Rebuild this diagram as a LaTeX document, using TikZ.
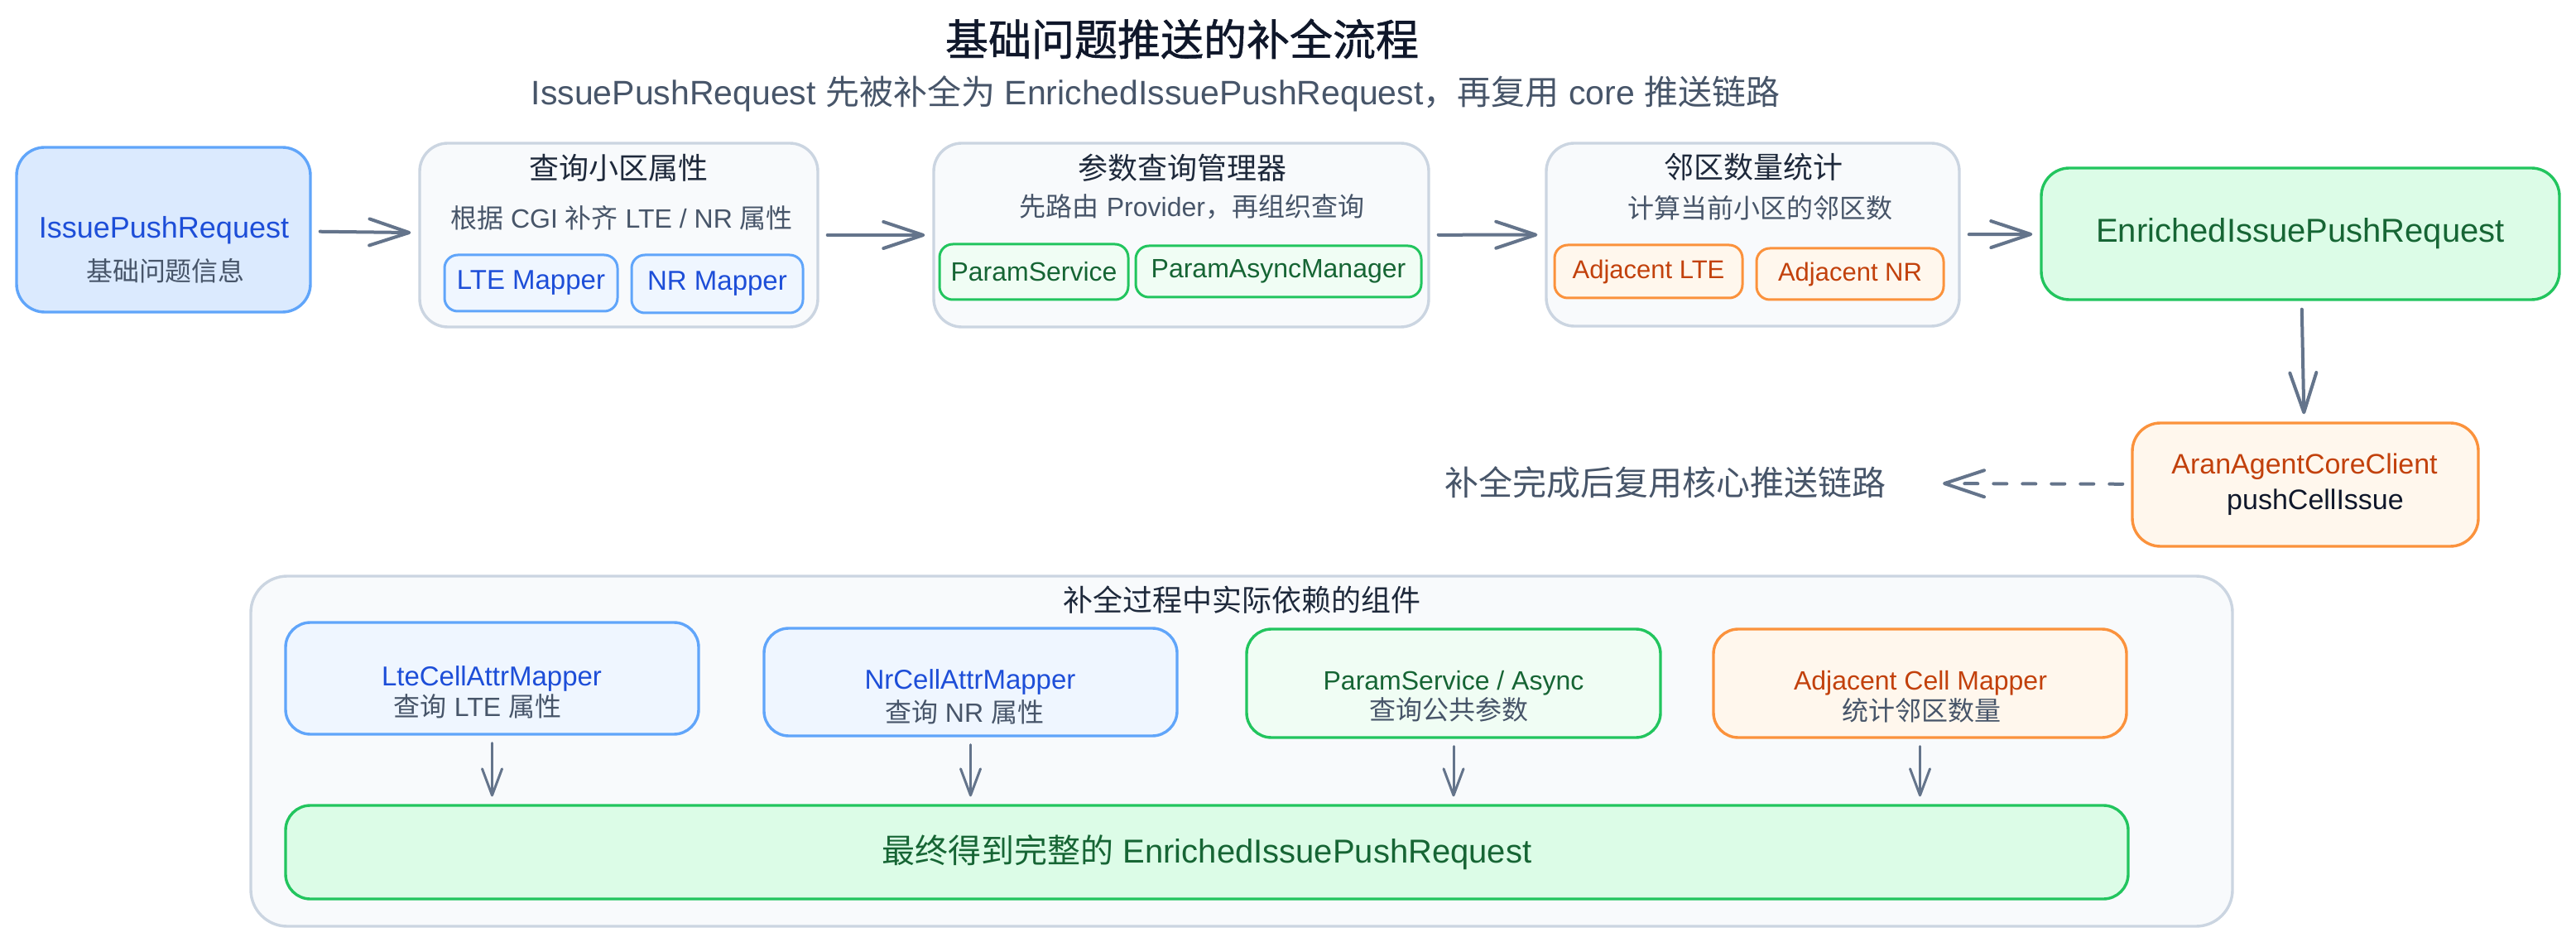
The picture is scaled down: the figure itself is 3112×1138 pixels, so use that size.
\documentclass[tikz,border=0pt]{standalone}
\usepackage{fontspec}
\setmainfont{Liberation Sans}
\newfontfamily\hanfont[BoldFont=Noto Sans CJK SC,BoldFeatures={FakeBold=1}]{Noto Sans CJK SC}
\usetikzlibrary{arrows.meta,positioning,fit}

% switch to the CJK family for Han characters and fullwidth punctuation
\XeTeXinterchartokenstate=1
\newXeTeXintercharclass\hanclass
\newcount\hanchar
\def\sethanrange#1#2{\hanchar=#1\relax
  \loop\ifnum\hanchar<#2\relax
    \XeTeXcharclass\hanchar=\hanclass
    \advance\hanchar by 1
  \repeat}
\sethanrange{"3000}{"3040}
\sethanrange{"4E00}{"A000}
\sethanrange{"FF00}{"FFF0}
\XeTeXinterchartoks 0 \hanclass = {\hanfont}
\XeTeXinterchartoks 4095 \hanclass = {\hanfont}
\XeTeXinterchartoks \hanclass 0 = {\rmfamily}
\XeTeXinterchartoks \hanclass 4095 = {\rmfamily}

\definecolor{inkdark}{HTML}{0F172A}
\definecolor{inktitle}{HTML}{1E293B}
\definecolor{inkmuted}{HTML}{475569}
\definecolor{wire}{HTML}{64748B}
\definecolor{panelfill}{HTML}{F8FAFC}
\definecolor{panelline}{HTML}{CBD5E1}
\definecolor{reqfill}{HTML}{DBEAFE}
\definecolor{bluefill}{HTML}{EFF6FF}
\definecolor{blueline}{HTML}{60A5FA}
\definecolor{bluetext}{HTML}{1D4ED8}
\definecolor{greenfill}{HTML}{DCFCE7}
\definecolor{greenpale}{HTML}{F0FDF4}
\definecolor{greenline}{HTML}{22C55E}
\definecolor{greentext}{HTML}{166534}
\definecolor{orangefill}{HTML}{FFF7ED}
\definecolor{orangeline}{HTML}{FB923C}
\definecolor{orangetext}{HTML}{C2410C}
\newcommand{\fsz}[1]{\fontsize{#1pt}{#1pt}\selectfont}
\tikzset{
  panel/.style={draw=panelline,fill=panelfill,line width=1.7pt,rounded corners=17pt,inner sep=0pt},
  card/.style={line width=1.7pt,rounded corners=17pt,inner sep=0pt},
  reqcard/.style={card,draw=blueline,fill=reqfill},
  enrcard/.style={card,draw=greenline,fill=greenfill},
  corecard/.style={card,draw=orangeline,fill=orangefill},
  chip/.style={line width=1.5pt,rounded corners=8pt,inner sep=0pt},
  bluechip/.style={chip,draw=blueline,fill=bluefill},
  greenchip/.style={chip,draw=greenline,fill=greenpale},
  orangechip/.style={chip,draw=orangeline,fill=orangefill},
  tag/.style={inner sep=0pt},
  bluetag/.style={tag,text=bluetext,font=\fsz{16.5}},
  greentag/.style={tag,text=greentext,font=\fsz{16}},
  orangetag/.style={tag,text=orangetext,font=\fsz{15.5}},
  comp/.style={line width=1.7pt,rounded corners=15pt,inner sep=0pt},
  heading/.style={anchor=base,inner sep=0pt,text=inkdark,font=\fsz{26}\bfseries},
  subheading/.style={anchor=base,inner sep=0pt,text=inkmuted,font=\fsz{20.5}},
  paneltitle/.style={anchor=base,inner sep=0pt,text=inktitle,font=\fsz{18}},
  panelnote/.style={anchor=base,inner sep=0pt,text=inkmuted,font=\fsz{16}},
  compname/.style={anchor=base,inner sep=0pt,font=\fsz{16.5}},
  flow/.style={-{Straight Barb[length=24pt,width=16pt,round]},draw=wire,line width=2pt,
               line cap=round,shorten <=5pt,shorten >=4.5pt},
  dep/.style={-{Straight Barb[length=16pt,width=12pt,round]},draw=wire,line width=1.5pt,
              line cap=round,shorten <=4.5pt,shorten >=4.5pt},
  back/.style={flow,dash pattern=on 8pt off 9.5pt},
}

\begin{document}
\begin{tikzpicture}[x=0.5pt,y=-0.5pt]
  \useasboundingbox[fill=white] (0,0) rectangle (3112,1138);

  \node[heading]    (title) at (1428,67)  {基础问题推送的补全流程};
  \node[subheading] (lede)  at (1396,127)
    {IssuePushRequest 先被补全为 EnrichedIssuePushRequest，再复用 core 推送链路};

  % top row
  \node[reqcard,fit={(20,178)(375,377)}] (req) {};
  \node[compname,text=bluetext,font=\fsz{18}] (reqname) at (198,288) {IssuePushRequest};
  \node[panelnote] (reqnote) at (200,340) {基础问题信息};

  \node[panel,fit={(507,173)(988,395)}] (cellq) {};
  \node[paneltitle] (cellqtitle) at (747,217) {查询小区属性};
  \node[panelnote]  (cellqnote)  at (751,276) {根据 CGI 补齐 LTE / NR 属性};
  \node[bluechip,fit={(537,308)(746,376)}] (ltemap) {};
  \node[bluechip,fit={(763,308)(970,378)}] (nrmap)  {};
  \node[bluetag] (ltemaptag) at (ltemap) {LTE Mapper};
  \node[bluetag] (nrmaptag)  at (nrmap)  {NR Mapper};

  \node[panel,fit={(1128,173)(1726,395)}] (param) {};
  \node[paneltitle] (paramtitle) at (1428,217) {参数查询管理器};
  \node[panelnote]  (paramnote)  at (1440,262) {先路由 Provider，再组织查询};
  \node[greenchip,fit={(1135,295)(1363,362)}] (psvc)   {};
  \node[greenchip,fit={(1372,297)(1717,359)}] (pasync) {};
  \node[greentag] (psvctag)   at (psvc)   {ParamService};
  \node[greentag] (pasynctag) at (pasync) {ParamAsyncManager};

  \node[panel,fit={(1868,173)(2367,394)}] (adj) {};
  \node[paneltitle] (adjtitle) at (2118,216) {邻区数量统计};
  \node[panelnote]  (adjnote)  at (2126,264) {计算当前小区的邻区数};
  \node[orangechip,fit={(1878,296)(2105,360)}] (adjlte) {};
  \node[orangechip,fit={(2122,300)(2348,362)}] (adjnr)  {};
  \node[orangetag] (adjltetag) at (adjlte) {Adjacent LTE};
  \node[orangetag] (adjnrtag)  at (adjnr)  {Adjacent NR};

  \node[enrcard,fit={(2466,203)(3092,362)}] (enr) {};
  \node[tag,text=greentext,font=\fsz{20}] (enrtag) at (enr) {EnrichedIssuePushRequest};

  \node[corecard,fit={(2576,511)(2994,660)}] (core) {};
  \node[compname,text=orangetext,font=\fsz{17}] (corename) at (2784,573) {AranAgentCoreClient};
  \node[compname,text=inkdark,font=\fsz{17}]    (corecall) at (2797,616) {pushCellIssue};
  \node[anchor=east,inner sep=0pt,text=inkmuted,font=\fsz{20.5}] (handoff) at (2279,583)
    {补全完成后复用核心推送链路};

  \foreach \a/\b in {req/cellq,cellq/param,param/adj,adj/enr,enr/core}
    {\draw[flow] (\a) -- (\b);}
  \draw[back,shorten >=34pt] (core) -- (handoff);

  % components the enrichment relies on
  \node[panel,rounded corners=22pt,fit={(303,696)(2697,1119)}] (deps) {};
  \node[paneltitle] (depstitle) at (1500,739) {补全过程中实际依赖的组件};

  \node[comp,draw=blueline,fill=bluefill,fit={(345,752)(844,887)}] (ltecomp) {};
  \node[compname,text=bluetext] (ltename) at (594,828) {LteCellAttrMapper};
  \node[panelnote] (ltejob) at (577,865) {查询 LTE 属性};

  \node[comp,draw=blueline,fill=bluefill,fit={(923,759)(1422,889)}] (nrcomp) {};
  \node[compname,text=bluetext] (nrname) at (1172,832) {NrCellAttrMapper};
  \node[panelnote] (nrjob) at (1165,872) {查询 NR 属性};

  \node[comp,draw=greenline,fill=greenpale,fit={(1506,760)(2006,891)}] (paramcomp) {};
  \node[compname,text=greentext,font=\fsz{16}] (paramname) at (1756,833) {ParamService / Async};
  \node[panelnote] (paramjob) at (1750,869) {查询公共参数};

  \node[comp,draw=orangeline,fill=orangefill,fit={(2070,760)(2569,891)}] (adjcomp) {};
  \node[compname,text=orangetext,font=\fsz{16}] (adjname) at (2320,833) {Adjacent Cell Mapper};
  \node[panelnote] (adjjob) at (2321,870) {统计邻区数量};

  \node[comp,draw=greenline,fill=greenfill,fit={(345,973)(2571,1086)}] (result) {};
  \node[tag,text=greentext,font=\fsz{20}] (resulttag) at (result)
    {最终得到完整的 EnrichedIssuePushRequest};

  \foreach \c in {ltecomp,nrcomp,paramcomp,adjcomp}
    {\draw[dep] (\c.south) -- (\c.south |- result.north);}
\end{tikzpicture}
\end{document}
